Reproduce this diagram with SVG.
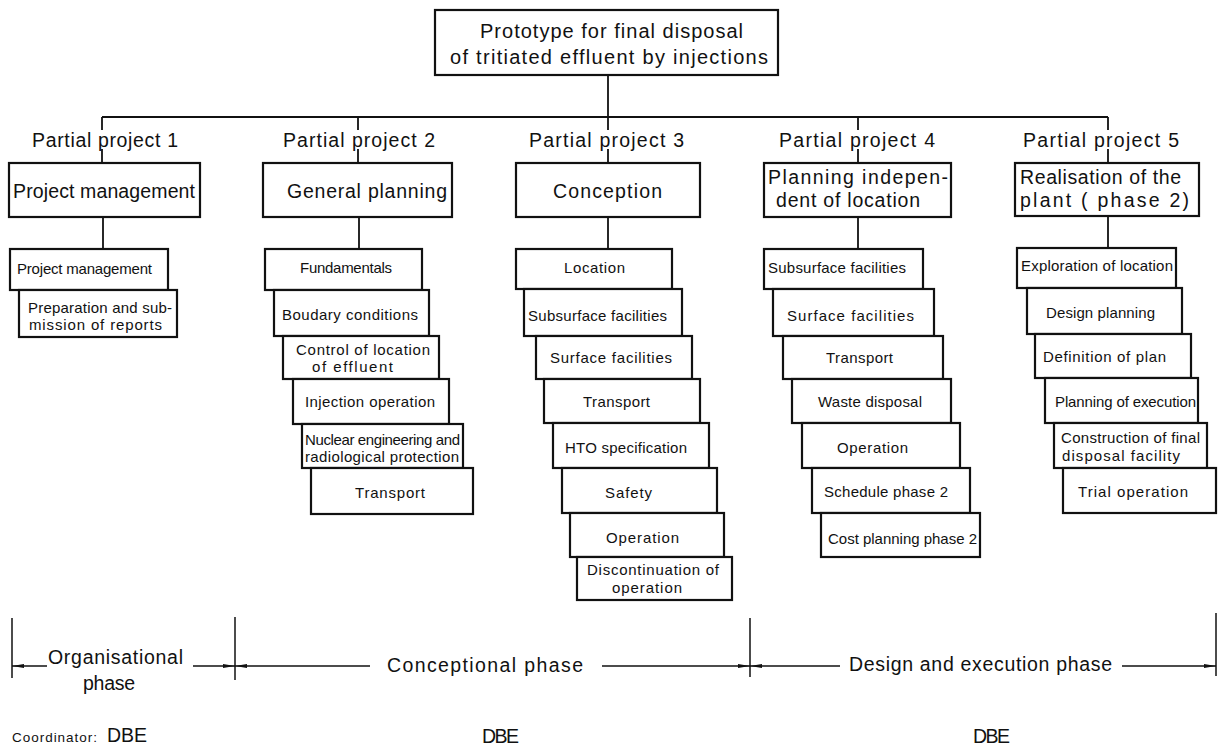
<svg xmlns="http://www.w3.org/2000/svg" width="1221" height="747" viewBox="0 0 1221 747">
<defs>
<style>
.b{fill:#fff;stroke:#111;stroke-width:2.2}
.c{fill:none;stroke:#111;stroke-width:1.8}
.d{fill:none;stroke:#111;stroke-width:1.5}
text{font-family:"Liberation Sans",Arial,sans-serif;fill:#111}
.t0{font-size:20px}
.t1{font-size:19.5px}
.t2{font-size:19.5px}
.s{font-size:15px}
.ph{font-size:19.5px}
.co{font-size:13.5px}
.db{font-size:19.5px}
</style>
<marker id="ar" viewBox="0 0 12 6" refX="12" refY="3" markerWidth="12" markerHeight="6" markerUnits="userSpaceOnUse" orient="auto">
<path d="M0,1 L12,3 L0,5 Z" fill="#111"/>
</marker>
</defs>
<rect width="1221" height="747" fill="#fff"/>

<g id="connectors">
<line class="c" x1="608" y1="75" x2="608" y2="117"/>
<line class="c" x1="102" y1="117" x2="1108" y2="117"/>
<path class="c" d="M102,117V130M102,149V163"/>
<path class="c" d="M358,117V130M358,149V163"/>
<path class="c" d="M608,117V130M608,149V163"/>
<path class="c" d="M858,117V130M858,149V163"/>
<path class="c" d="M1108,117V130M1108,149V163"/>
<line class="c" x1="103" y1="217" x2="103" y2="249"/>
<line class="c" x1="359" y1="217" x2="359" y2="249"/>
<line class="c" x1="608" y1="217" x2="608" y2="249"/>
<line class="c" x1="858" y1="217" x2="858" y2="249"/>
<line class="c" x1="1108" y1="216" x2="1108" y2="248"/>
</g>

<g id="root">
<rect class="b" x="435" y="10" width="343" height="65"/>
<text class="t0" x="480" y="38" textLength="263" lengthAdjust="spacing">Prototype for final disposal</text>
<text class="t0" x="450" y="64" textLength="318" lengthAdjust="spacing">of tritiated effluent by injections</text>
</g>

<g id="pp-labels">
<text class="t1" x="32" y="147" textLength="146" lengthAdjust="spacing">Partial project 1</text>
<text class="t1" x="283" y="147" textLength="152" lengthAdjust="spacing">Partial project 2</text>
<text class="t1" x="529" y="147" textLength="155" lengthAdjust="spacing">Partial project 3</text>
<text class="t1" x="779" y="147" textLength="156" lengthAdjust="spacing">Partial project 4</text>
<text class="t1" x="1023" y="147" textLength="156" lengthAdjust="spacing">Partial project 5</text>
</g>

<g id="pp1">
<rect class="b" x="9" y="163" width="191" height="54"/>
<text class="t2" x="13" y="198" textLength="182" lengthAdjust="spacing">Project management</text>
</g>
<g id="pp2">
<rect class="b" x="263" y="163" width="189" height="54"/>
<text class="t2" x="287" y="198" textLength="160" lengthAdjust="spacing">General planning</text>
</g>
<g id="pp3">
<rect class="b" x="516" y="163" width="184" height="54"/>
<text class="t2" x="553" y="198" textLength="109" lengthAdjust="spacing">Conception</text>
</g>
<g id="pp4">
<rect class="b" x="764" y="163" width="187" height="54"/>
<text class="t2" x="768" y="184" textLength="180" lengthAdjust="spacing">Planning indepen-</text>
<text class="t2" x="776" y="207" textLength="144" lengthAdjust="spacing">dent of location</text>
</g>
<g id="pp5">
<rect class="b" x="1015" y="163" width="184" height="53"/>
<text class="t2" x="1020" y="184" textLength="161" lengthAdjust="spacing">Realisation of the</text>
<text class="t2" x="1020" y="207" textLength="169" lengthAdjust="spacing">plant ( phase 2)</text>
</g>

<g id="pp1-tasks">
<rect class="b" x="10" y="249" width="158" height="41"/>
<text class="s" x="17" y="274" textLength="135" lengthAdjust="spacing">Project management</text>
<rect class="b" x="19" y="290" width="158" height="47"/>
<text class="s" x="28" y="313" textLength="144" lengthAdjust="spacing">Preparation and sub-</text>
<text class="s" x="29" y="330" textLength="133" lengthAdjust="spacing">mission of reports</text>
</g>

<g id="pp2-tasks">
<rect class="b" x="265" y="249" width="157" height="41"/>
<text class="s" x="300" y="273" textLength="92" lengthAdjust="spacing">Fundamentals</text>
<rect class="b" x="274" y="290" width="155" height="46"/>
<text class="s" x="282" y="320" textLength="136" lengthAdjust="spacing">Boudary conditions</text>
<rect class="b" x="283" y="336" width="156" height="43"/>
<text class="s" x="296" y="355" textLength="134" lengthAdjust="spacing">Control of location</text>
<text class="s" x="312" y="372" textLength="81" lengthAdjust="spacing">of effluent</text>
<rect class="b" x="293" y="379" width="156" height="45"/>
<text class="s" x="305" y="407" textLength="130" lengthAdjust="spacing">Injection operation</text>
<rect class="b" x="302" y="424" width="161" height="44"/>
<text class="s" x="305" y="445" textLength="155" lengthAdjust="spacing">Nuclear engineering and</text>
<text class="s" x="305" y="462" textLength="154" lengthAdjust="spacing">radiological protection</text>
<rect class="b" x="311" y="468" width="162" height="46"/>
<text class="s" x="355" y="498" textLength="70" lengthAdjust="spacing">Transport</text>
</g>

<g id="pp3-tasks">
<rect class="b" x="516" y="249" width="156" height="40"/>
<text class="s" x="564" y="273" textLength="61" lengthAdjust="spacing">Location</text>
<rect class="b" x="524" y="289" width="158" height="47"/>
<text class="s" x="528" y="321" textLength="139" lengthAdjust="spacing">Subsurface facilities</text>
<rect class="b" x="536" y="336" width="156" height="43"/>
<text class="s" x="550" y="363" textLength="122" lengthAdjust="spacing">Surface facilities</text>
<rect class="b" x="544" y="379" width="156" height="44"/>
<text class="s" x="583" y="407" textLength="67" lengthAdjust="spacing">Transport</text>
<rect class="b" x="553" y="423" width="156" height="45"/>
<text class="s" x="565" y="453" textLength="122" lengthAdjust="spacing">HTO specification</text>
<rect class="b" x="562" y="468" width="155" height="45"/>
<text class="s" x="605" y="498" textLength="47" lengthAdjust="spacing">Safety</text>
<rect class="b" x="570" y="513" width="154" height="44"/>
<text class="s" x="606" y="543" textLength="73" lengthAdjust="spacing">Operation</text>
<rect class="b" x="577" y="557" width="155" height="43"/>
<text class="s" x="587" y="575" textLength="132" lengthAdjust="spacing">Discontinuation of</text>
<text class="s" x="612" y="593" textLength="70" lengthAdjust="spacing">operation</text>
</g>

<g id="pp4-tasks">
<rect class="b" x="764" y="249" width="159" height="40"/>
<text class="s" x="768" y="273" textLength="138" lengthAdjust="spacing">Subsurface facilities</text>
<rect class="b" x="773" y="289" width="161" height="47"/>
<text class="s" x="787" y="321" textLength="127" lengthAdjust="spacing">Surface facilities</text>
<rect class="b" x="783" y="336" width="160" height="43"/>
<text class="s" x="826" y="363" textLength="67" lengthAdjust="spacing">Transport</text>
<rect class="b" x="792" y="379" width="159" height="44"/>
<text class="s" x="818" y="407" textLength="104" lengthAdjust="spacing">Waste disposal</text>
<rect class="b" x="802" y="423" width="158" height="45"/>
<text class="s" x="837" y="453" textLength="71" lengthAdjust="spacing">Operation</text>
<rect class="b" x="812" y="468" width="158" height="45"/>
<text class="s" x="824" y="497" textLength="124" lengthAdjust="spacing">Schedule phase 2</text>
<rect class="b" x="821" y="513" width="159" height="44"/>
<text class="s" x="828" y="544" textLength="149" lengthAdjust="spacing">Cost planning phase 2</text>
</g>

<g id="pp5-tasks">
<rect class="b" x="1017" y="248" width="159" height="40"/>
<text class="s" x="1021" y="271" textLength="152" lengthAdjust="spacing">Exploration of location</text>
<rect class="b" x="1027" y="288" width="155" height="46"/>
<text class="s" x="1046" y="318" textLength="109" lengthAdjust="spacing">Design planning</text>
<rect class="b" x="1035" y="334" width="156" height="44"/>
<text class="s" x="1043" y="362" textLength="123" lengthAdjust="spacing">Definition of plan</text>
<rect class="b" x="1045" y="378" width="153" height="45"/>
<text class="s" x="1055" y="407" textLength="141" lengthAdjust="spacing">Planning of execution</text>
<rect class="b" x="1054" y="423" width="153" height="45"/>
<text class="s" x="1061" y="443" textLength="139" lengthAdjust="spacing">Construction of final</text>
<text class="s" x="1062" y="461" textLength="118" lengthAdjust="spacing">disposal facility</text>
<rect class="b" x="1063" y="468" width="153" height="45"/>
<text class="s" x="1078" y="497" textLength="110" lengthAdjust="spacing">Trial operation</text>
</g>

<g id="phases">
<line class="d" x1="12" y1="618" x2="12" y2="678"/>
<line class="d" x1="235" y1="617" x2="235" y2="680"/>
<line class="d" x1="750" y1="618" x2="750" y2="677"/>
<line class="d" x1="1216" y1="613" x2="1216" y2="676"/>
<line class="d" x1="47" y1="666" x2="12" y2="666" marker-end="url(#ar)"/>
<line class="d" x1="193" y1="666" x2="235" y2="666" marker-end="url(#ar)"/>
<line class="d" x1="370" y1="666" x2="235" y2="666" marker-end="url(#ar)"/>
<line class="d" x1="602" y1="666" x2="750" y2="666" marker-end="url(#ar)"/>
<line class="d" x1="840" y1="666" x2="750" y2="666" marker-end="url(#ar)"/>
<line class="d" x1="1122" y1="666" x2="1216" y2="666" marker-end="url(#ar)"/>
<text class="ph" x="48" y="664" textLength="135" lengthAdjust="spacing">Organisational</text>
<text class="ph" x="83" y="690" textLength="52" lengthAdjust="spacing">phase</text>
<text class="ph" x="387" y="672" textLength="196" lengthAdjust="spacing">Conceptional phase</text>
<text class="ph" x="849" y="671" textLength="263" lengthAdjust="spacing">Design and execution phase</text>
</g>

<g id="coordinators">
<text class="co" x="12" y="742" textLength="85" lengthAdjust="spacing">Coordinator:</text>
<text class="db" x="107" y="742" textLength="40" lengthAdjust="spacing">DBE</text>
<text class="db" x="482" y="743" textLength="37" lengthAdjust="spacing">DBE</text>
<text class="db" x="973" y="743" textLength="37" lengthAdjust="spacing">DBE</text>
</g>
</svg>
